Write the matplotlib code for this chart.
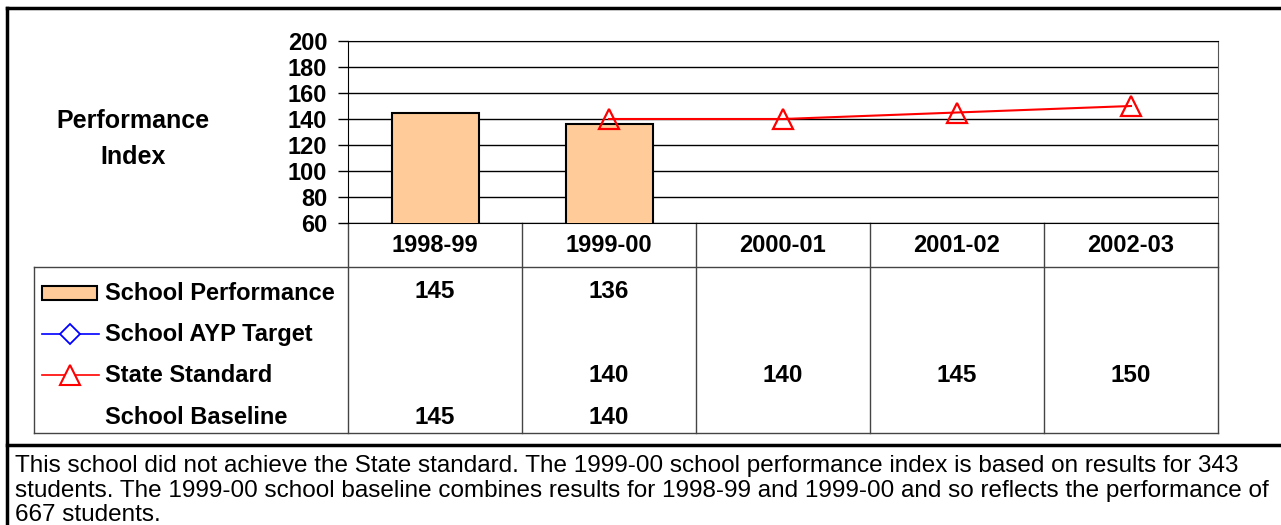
import numpy as np
import matplotlib
matplotlib.use("Agg")
import matplotlib.pyplot as plt
import matplotlib.transforms as mtransforms
from matplotlib.patches import Rectangle
from matplotlib.lines import Line2D

# data
years = ["1998-99", "1999-00", "2000-01", "2001-02", "2002-03"]
school_performance = [145, 136, None, None, None]
school_ayp_target = [None, None, None, None, None]
state_standard = [None, 140, 140, 145, 150]
school_baseline = [145, 140, None, None, None]
bottom_note = ("This school did not achieve the State standard. The 1999-00 school performance index is based on results for 343\n"
               "students. The 1999-00 school baseline combines results for 1998-99 and 1999-00 and so reflects the performance of\n"
               "667 students.")

plt.rcParams['font.family'] = ['Liberation Sans', 'DejaVu Sans']
FS = 17  # bold labels

W, H = 1281, 525
fig = plt.figure(figsize=(W / 100, H / 100), dpi=100)


def px(x0, y0, x1, y1):
    return [x0 / W, 1 - y1 / H, (x1 - x0) / W, (y1 - y0) / H]


# overlay in pixel coordinates for frame and table
over = fig.add_axes([0, 0, 1, 1], zorder=0)
over.set_xlim(0, W)
over.set_ylim(H, 0)
over.axis('off')

ax = fig.add_axes(px(348, 41, 1218, 223), zorder=1)
ax.patch.set_alpha(0)
x = np.arange(len(years))

perf_x = [i for i, v in zip(x, school_performance) if v is not None]
perf_y = [v for v in school_performance if v is not None]
ax.bar(perf_x, perf_y, width=0.5, color='#FFCC99', edgecolor='black', linewidth=1.5, zorder=3)

st_x = [i for i, v in zip(x, state_standard) if v is not None]
st_y = [v for v in state_standard if v is not None]
ax.plot(st_x, st_y, color='red', lw=1.5, marker='^', ms=15, mfc='none', mec='red', mew=1.6, zorder=4)

ax.set_xlim(-0.5, len(years) - 0.5)
ax.set_ylim(60, 200)
ax.set_yticks(range(60, 201, 20))
ax.set_xticks([])
ax.yaxis.grid(True, color='black', lw=1)
ax.set_axisbelow(True)
ax.tick_params(axis='y', length=7, width=1, pad=8, labelsize=FS)
for lab in ax.get_yticklabels():
    lab.set_fontweight('bold')
for s in ['top', 'left']:
    ax.spines[s].set_color('black')
ax.spines['right'].set_color('#555555')
ax.spines['bottom'].set_color('black')

fig.text(133 / W, 1 - 139 / H, "Performance\nIndex", ha='center', va='center',
         fontsize=18, fontweight='bold', linespacing=1.6)

# table below the chart
blend = mtransforms.blended_transform_factory(ax.transData, over.transData)
gc = '#444444'
for e in np.arange(-0.5, len(years), 1.0):
    over.add_line(Line2D([e, e], [223, 433], color=gc, lw=1, transform=blend))
over.plot([34, 1218], [267, 267], color=gc, lw=1)
over.plot([34, 1218], [433, 433], color=gc, lw=1)
over.plot([34, 34], [267, 433], color=gc, lw=1)

for i, yr in enumerate(years):
    over.text(i, 246, yr, transform=blend, ha='center', va='center', fontsize=FS, fontweight='bold')

rows_y = [292, 334, 375, 417]
row_labels = ["School Performance", "School AYP Target", "State Standard", "School Baseline"]
row_data = [school_performance, school_ayp_target, state_standard, school_baseline]
for ry, lab, vals in zip(rows_y, row_labels, row_data):
    over.text(105, ry + 1, lab, ha='left', va='center', fontsize=FS, fontweight='bold')
    for i, v in enumerate(vals):
        if v is not None:
            over.text(i, ry, str(v), transform=blend, ha='center', va='center',
                      fontsize=17.5, fontweight='bold')

# legend keys
over.add_patch(Rectangle((42, 286), 55, 14, facecolor='#FFCC99', edgecolor='black', lw=1.5))
over.plot([42, 99], [334, 334], color='blue', lw=1.2)
over.plot([70], [334], marker='D', ms=10, mfc='white', mec='blue', mew=1.3)
over.plot([42, 99], [375, 375], color='red', lw=1.2)
over.plot([70], [375], marker='^', ms=14, mfc='white', mec='red', mew=1.5)

# outer frame
over.plot([7, W], [8, 8], color='black', lw=2.5)
over.plot([7, 7], [8, H], color='black', lw=2.5)
over.plot([7, W], [445, 445], color='black', lw=2.5)

over.text(15, 455, bottom_note, ha='left', va='top', fontsize=17.5, linespacing=1.15)

fig.savefig("out.png", dpi=100)
